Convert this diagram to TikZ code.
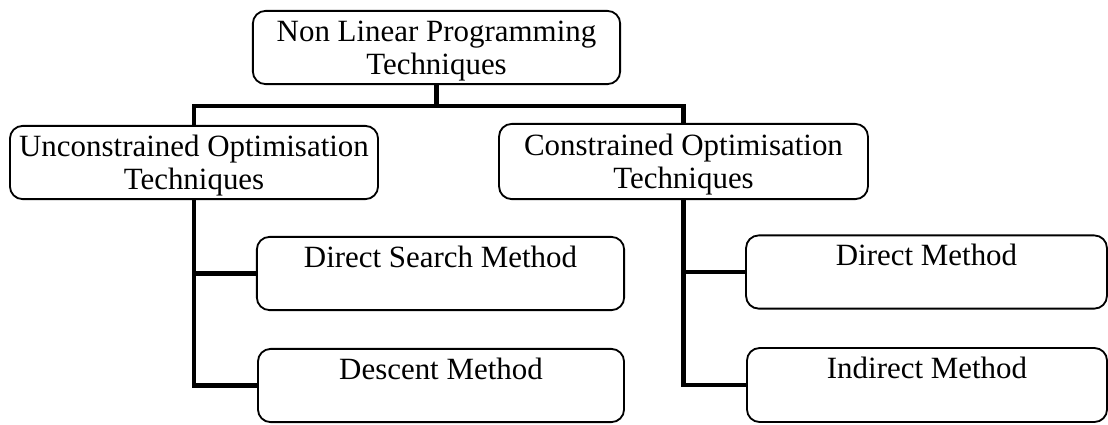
\documentclass[tikz,border=0pt]{standalone}
\usepackage{fontspec}
\setmainfont{Liberation Serif}
\newcommand\topgap{\rule{0pt}{21.5pt}}
\newcommand\botgap{\rule[-7pt]{0pt}{7pt}}
\begin{document}
\begin{tikzpicture}[x=0.025cm,y=-0.025cm,
	box/.style={draw,rounded corners=9pt,line width=1.3pt,align=center,inner sep=0pt,minimum height=1.83cm,font=\fontsize{22}{23.5}\selectfont},
	conn/.style={line width=3.5pt}]
			\useasboundingbox (0,0) rectangle (1108,424);
			\node	(t) at (436.5,47.5) [box,minimum width=9.18cm] {\topgap Non Linear Programming\\Techniques\botgap};
			\node	(u) at (194,162.5) [box,minimum width=9.2cm] {\topgap Unconstrained Optimisation\\Techniques\botgap};
			\node	(c) at (683.5,161.5) [box,minimum width=9.22cm,minimum height=1.88cm] {\topgap Constrained Optimisation\\Techniques\botgap};
			\node	(ds) at (440.5,273.5) [box,minimum width=9.18cm] {\topgap Direct Search Method\\\botgap};
			\node	(de) at (441,385.5) [box,minimum width=9.15cm] {\topgap Descent Method\\\botgap};
			\node	(dm) at (926.5,272) [box,minimum width=9.02cm] {\topgap Direct Method\\\botgap};
			\node	(im) at (927,385) [box,minimum width=9cm,minimum height=1.85cm] {\topgap Indirect Method\\\botgap};
			\coordinate (bar) at (436.5,106);
			\draw[conn]
			(t.south) -- (bar)
			(u.north) |- (bar) -| (c.north)
			;
			\draw[conn] (u.south) |- (de.west);
			\draw[conn] (u.south |- ds.west) -- (ds.west);
			\draw[conn] (c.south) |- (im.west);
			\draw[conn] (c.south |- dm.west) -- (dm.west);
\end{tikzpicture}
\end{document}
